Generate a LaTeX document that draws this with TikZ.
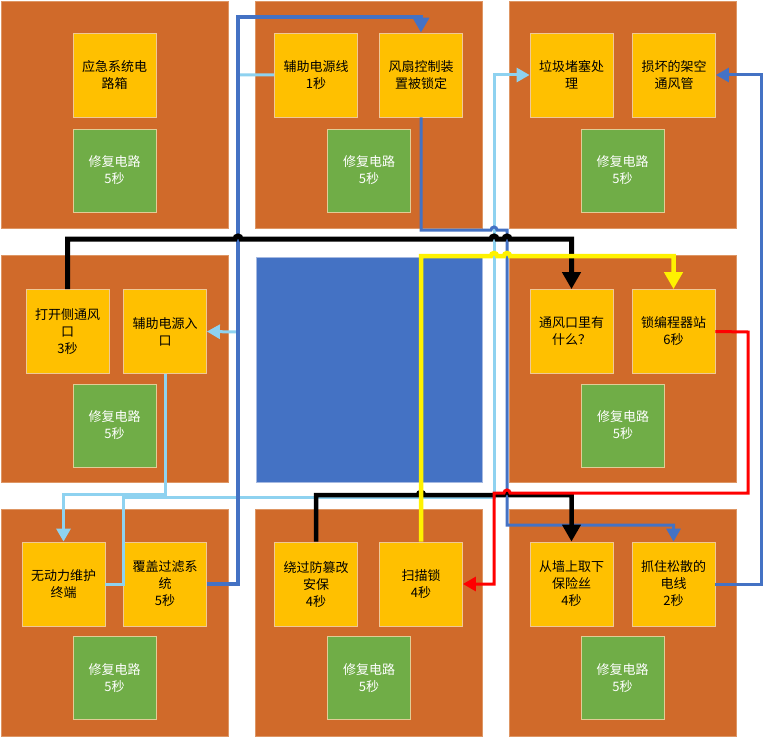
\documentclass[tikz,border=0pt]{standalone}
\usepackage{fontspec}
\setmainfont{Noto Sans CJK SC}
\usetikzlibrary{arrows.meta}
\definecolor{roomc}{RGB}{208,106,42}
\definecolor{roomedge}{RGB}{222,150,100}
\definecolor{gold}{RGB}{255,192,0}
\definecolor{boxedge}{RGB}{240,200,150}
\definecolor{grn}{RGB}{112,173,71}
\definecolor{grnedge}{RGB}{225,205,150}
\definecolor{dblue}{RGB}{68,114,196}
\definecolor{lblue}{RGB}{142,210,240}
\definecolor{cedge}{RGB}{165,185,225}
\begin{document}
\begin{tikzpicture}[x=1pt,y=-1pt,
  room/.style={draw=roomedge,line width=0.6pt,fill=roomc,minimum width=227pt,minimum height=227pt,inner sep=0pt},
  core/.style={draw=cedge,line width=0.8pt,fill=dblue,minimum width=226pt,minimum height=225pt,inner sep=0pt},
  task/.style={draw=boxedge,line width=0.8pt,fill=gold,minimum width=83pt,minimum height=84pt,inner sep=1pt,align=center,text=black,font=\fontsize{13}{17}\selectfont},
  fixbox/.style={draw=grnedge,line width=0.8pt,fill=grn,minimum width=83pt,minimum height=83pt,inner sep=1pt,align=center,text=white,font=\fontsize{13}{17}\selectfont},
  tipbig/.style={-{Triangle[width=18pt,length=17pt]}},
  tipmid/.style={-{Triangle[width=16pt,length=15pt]}},
  tipsmall/.style={-{Triangle[width=14pt,length=13pt]}},
  wire/.style={line join=miter,line cap=butt}
]
\useasboundingbox (0,0) rectangle (765,738);
\fill[white] (0,0) rectangle (765,738);
% rooms
\node[room] (rTL) at (114.5,114.5) {};
\node[room] (rTM) at (368.5,114.5) {};
\node[room] (rTR) at (622.5,114.5) {};
\node[room] (rML) at (114.5,368.5) {};
\node[core] (rC) at (369,369.5) {};
\node[room] (rMR) at (622.5,368.5) {};
\node[room] (rBL) at (114.5,623) {};
\node[room] (rBM) at (368.5,623) {};
\node[room] (rBR) at (622.5,623) {};
% top-left
\node[task] (emerg) at (114.5,75) {应急系统电\\路箱};
\node[fixbox] (g1) at (114.5,170.5) {修复电路\\5秒};
% top-middle
\node[task] (auxline) at (316,75) {辅助电源线\\1秒};
\node[task] (fan) at (421,75) {风扇控制装\\置被锁定};
\node[fixbox] (g2) at (369,170.5) {修复电路\\5秒};
% top-right
\node[task] (trash) at (571.5,75) {垃圾堵塞处\\理};
\node[task] (duct) at (674,75) {损坏的架空\\通风管};
\node[fixbox] (g3) at (622.5,170.5) {修复电路\\5秒};
% middle-left
\node[task] (side) at (67.5,331.5) {打开侧通风\\口\\3秒};
\node[task] (auxin) at (165,331.5) {辅助电源入\\口};
\node[fixbox] (g4) at (114.5,425.5) {修复电路\\5秒};
% middle-right
\node[task] (what) at (571.5,331.5) {通风口里有\\什么？};
\node[task] (lockp) at (673.5,331.5) {锁编程器站\\6秒};
\node[fixbox] (g5) at (623,425.5) {修复电路\\5秒};
% bottom-left
\node[task] (unpow) at (63.5,584) {无动力维护\\终端};
\node[task] (cover) at (165,584) {覆盖过滤系\\统\\5秒};
\node[fixbox] (g6) at (114.5,678) {修复电路\\5秒};
% bottom-middle
\node[task] (bypass) at (316,584) {绕过防篡改\\安保\\4秒};
\node[task] (scan) at (421,584) {扫描锁\\4秒};
\node[fixbox] (g7) at (369,678) {修复电路\\5秒};
% bottom-right
\node[task] (fuse) at (571.5,584) {从墙上取下\\保险丝\\4秒};
\node[task] (loose) at (673.5,584) {抓住松散的\\电线\\2秒};
\node[fixbox] (g8) at (622.5,678) {修复电路\\5秒};

% light blue connectors
\draw[wire,lblue,line width=3pt,tipsmall] (auxline.west) -- (238,75) -- (238,332) -- (auxin.east);
\draw[wire,lblue,line width=3pt,tipsmall] (auxin.south) -- (165,494) -| (unpow.north);
\draw[wire,lblue,line width=3pt,tipsmall] (unpow.east) -- (123,584) -- (123,497) -- (494,497) -- (494,75) -- (trash.west);
% dark blue connectors
\draw[wire,dblue,line width=4pt,tipmid] (cover.east) -- (238,584) -- (238,17) -| (fan.north);
\draw[wire,dblue,line width=3pt,tipsmall] (fan.south) -- (421,230) -- (491,230) arc[start angle=180,end angle=360,radius=3] -- (507,230) -- (507,525) -| (loose.north);
\draw[wire,dblue,line width=3pt,tipsmall] (loose.east) -- (761,584) -- (761,75) -- (duct.east);
% black connectors
\draw[wire,black,line width=5pt,tipbig] (side.north) -- (67.5,239) -- (235,239) arc[start angle=180,end angle=360,radius=3] -- (491,239) arc[start angle=180,end angle=360,radius=3] -- (504,239) arc[start angle=180,end angle=360,radius=3] -- (571.5,239) -- (what.north);
\draw[wire,black,line width=4.5pt,tipbig] (bypass.north) -- (316,495) -- (418,495) arc[start angle=180,end angle=360,radius=3] -- (504,495) arc[start angle=180,end angle=360,radius=3] -- (571.5,495) -- (fuse.north);
% red connector
\draw[wire,red,line width=3pt,tipsmall] (lockp.east) -- (748,332) -- (748,493) -- (510,493) arc[start angle=0,end angle=-180,radius=3] -- (494,493) -- (494,584) -- (scan.east);
% yellow connector
\draw[wire,yellow,line width=4.5pt,tipbig] (scan.north) -- (421,256) -- (491,256) arc[start angle=180,end angle=360,radius=3] -- (504,256) arc[start angle=180,end angle=360,radius=3] -- (673.5,256) -- (lockp.north);
\end{tikzpicture}
\end{document}
